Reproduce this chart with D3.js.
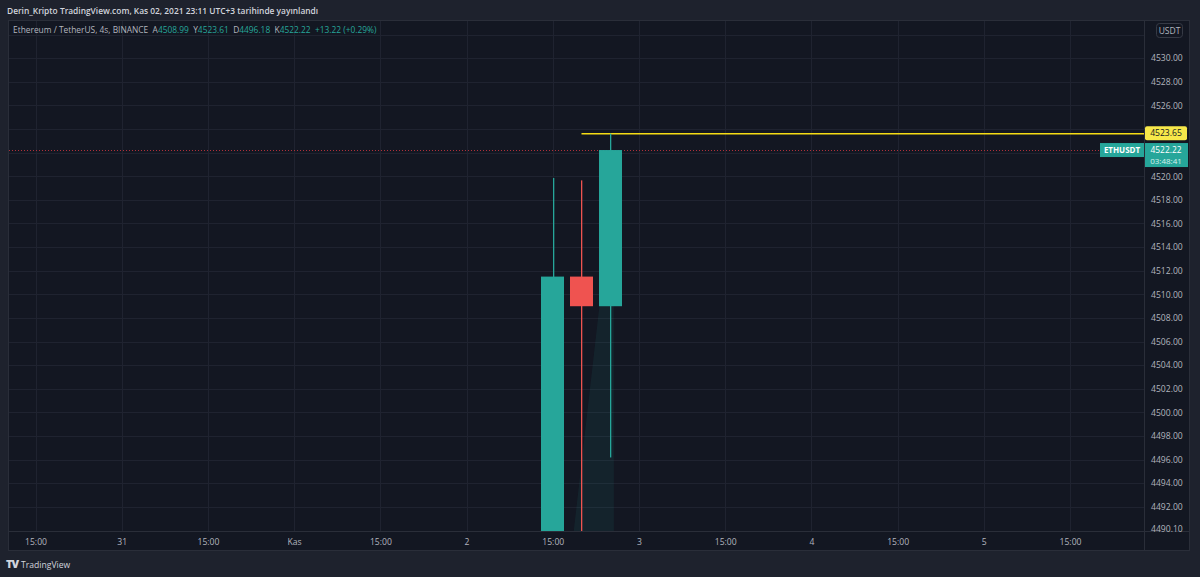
<!DOCTYPE html>
<html>
<head>
<meta charset="utf-8">
<script src="https://cdn.jsdelivr.net/npm/d3@7"></script>
<style>
  html, body { margin: 0; padding: 0; background: #1e222d; }
  svg { display: block; font-family: "Open Sans", "Noto Sans", sans-serif; }
</style>
</head>
<body>
<svg id="chart" width="1200" height="577"></svg>
<script>
// candles (4s bars, UTC+3 times)
var barTimes = ["2021-11-02T15:00", "2021-11-02T19:00", "2021-11-02T23:00"];
var opens  = [4486.0, 4511.5, 4508.99];
var highs  = [4519.85, 4519.65, 4523.61];
var lows   = [4484.0, 4485.0, 4496.18];
var closes = [4511.5, 4508.99, 4522.22];

// axis ticks (4522 / 4524 / 4532 sit under the price badges, so only their grid lines show)
var gridPrices = [4492, 4494, 4496, 4498, 4500, 4502, 4504, 4506, 4508, 4510, 4512, 4514,
  4516, 4518, 4520, 4522, 4524, 4526, 4528, 4530, 4532];
var priceLabels = [4490.10, 4492, 4494, 4496, 4498, 4500, 4502, 4504, 4506, 4508, 4510, 4512,
  4514, 4516, 4518, 4520, 4526, 4528, 4530];
var timeTicks = ["2021-10-30T15:00", "2021-10-31T03:00", "2021-10-31T15:00", "2021-11-01T03:00",
  "2021-11-01T15:00", "2021-11-02T03:00", "2021-11-02T15:00", "2021-11-03T03:00",
  "2021-11-03T15:00", "2021-11-04T03:00", "2021-11-04T15:00", "2021-11-05T03:00", "2021-11-05T15:00"];
var timeLabels = ["15:00", "31", "15:00", "Kas", "15:00", "2", "15:00", "3", "15:00", "4", "15:00", "5", "15:00"];

// drawings
var alertPrice = 4523.65;
var alertStart = "2021-11-02T19:00";
var lastPrice = 4522.22;
var shadePoints = [["2021-11-02T21:30", 4509.0], ["2021-11-02T23:30", 4509.0],
  ["2021-11-02T23:30", 4489.0], ["2021-11-02T17:45", 4489.0]];

var parse = d3.utcParse("%Y-%m-%dT%H:%M");

var svg = d3.select("#chart");

var pane = { left: 9, top: 21, right: 1144, bottom: 531 };

var x = d3.scaleUtc()
  .domain([parse("2021-10-30T15:00"), parse("2021-11-05T15:00")])
  .range([35.5, 1070]);

var y = d3.scaleLinear()
  .domain([4489.95, 4533.15])
  .range([pane.bottom, pane.top]);

var up = "#26a69a", down = "#ef5350";
var barW = (x(parse("2021-11-02T19:00")) - x(parse("2021-11-02T15:00"))) * 0.8;

// title
svg.append("text")
  .attr("x", 7).attr("y", 14)
  .attr("fill", "#d1d4dc")
  .attr("font-size", 8.4)
  .attr("font-weight", 600)
  .text("Derin_Kripto TradingView.com, Kas 02, 2021 23:11 UTC+3 tarihinde yayınlandı");

// pane frame
svg.append("rect")
  .attr("x", 8.5).attr("y", 20.5)
  .attr("width", 1181).attr("height", 530)
  .attr("fill", "#131722")
  .attr("stroke", "#2a2e39");

svg.append("defs").append("clipPath").attr("id", "plotclip")
  .append("rect")
  .attr("x", pane.left).attr("y", pane.top)
  .attr("width", pane.right - pane.left).attr("height", pane.bottom - pane.top);

// grid
var grid = svg.append("g").attr("clip-path", "url(#plotclip)");
grid.selectAll(".hgrid")
  .data(gridPrices)
  .enter().append("line")
  .attr("x1", pane.left).attr("x2", pane.right)
  .attr("y1", function(d) { return Math.round(y(d)) + 0.5; })
  .attr("y2", function(d) { return Math.round(y(d)) + 0.5; })
  .attr("stroke", "#1f2330");
grid.selectAll(".vgrid")
  .data(timeTicks)
  .enter().append("line")
  .attr("y1", pane.top).attr("y2", pane.bottom)
  .attr("x1", function(d) { return Math.round(x(parse(d))) + 0.5; })
  .attr("x2", function(d) { return Math.round(x(parse(d))) + 0.5; })
  .attr("stroke", "#1f2330");

var plot = svg.append("g").attr("clip-path", "url(#plotclip)");

// shaded area
plot.append("path")
  .attr("d", d3.line()
    .x(function(d) { return x(parse(d[0])); })
    .y(function(d) { return y(d[1]); })(shadePoints) + "Z")
  .attr("fill", "rgba(38,166,154,0.09)");

// last price dotted line
plot.append("line")
  .attr("x1", pane.left).attr("x2", pane.right)
  .attr("y1", Math.round(y(lastPrice)) + 0.5).attr("y2", Math.round(y(lastPrice)) + 0.5)
  .attr("stroke", "#b0303a")
  .attr("stroke-dasharray", "1,2");

// alert line
plot.append("rect")
  .attr("x", x(parse(alertStart)))
  .attr("width", pane.right - x(parse(alertStart)))
  .attr("y", Math.round(y(alertPrice)))
  .attr("height", 1.5)
  .attr("fill", "#f5dc14");

// candles
var candles = barTimes.map(function(t, i) {
  return { t: parse(t), o: opens[i], h: highs[i], l: lows[i], c: closes[i] };
});

plot.selectAll(".wick")
  .data(candles)
  .enter().append("rect")
  .attr("class", "wick")
  .attr("x", function(d) { return Math.round(x(d.t)); })
  .attr("width", 1.3)
  .attr("y", function(d) { return y(d.h); })
  .attr("height", function(d) { return y(d.l) - y(d.h); })
  .attr("fill", function(d) { return d.c >= d.o ? up : down; });

plot.selectAll(".body")
  .data(candles)
  .enter().append("rect")
  .attr("class", "body")
  .attr("x", function(d) { return Math.round(x(d.t) - barW / 2); })
  .attr("width", Math.round(barW))
  .attr("y", function(d) { return y(Math.max(d.o, d.c)); })
  .attr("height", function(d) { return Math.abs(y(d.o) - y(d.c)); })
  .attr("fill", function(d) { return d.c >= d.o ? up : down; });

// axis separators
svg.append("line")
  .attr("x1", pane.right + 0.5).attr("x2", pane.right + 0.5)
  .attr("y1", 21).attr("y2", 550)
  .attr("stroke", "#2a2e39");
svg.append("line")
  .attr("x1", 9).attr("x2", 1189)
  .attr("y1", pane.bottom + 0.5).attr("y2", pane.bottom + 0.5)
  .attr("stroke", "#2a2e39");

// price axis
var yAxis = d3.axisRight(y)
  .tickValues(priceLabels)
  .tickSize(0)
  .tickPadding(7)
  .tickFormat(d3.format(".2f"));

var yg = svg.append("g")
  .attr("transform", "translate(" + pane.right + ",0)")
  .call(yAxis);
yg.select(".domain").remove();
yg.selectAll("text")
  .attr("fill", "#b2b5be")
  .attr("font-size", 8.6)
  .attr("font-family", "Open Sans, sans-serif");

// USDT badge
svg.append("rect")
  .attr("x", 1156.5).attr("y", 23.5)
  .attr("width", 26).attr("height", 14).attr("rx", 3)
  .attr("fill", "#131722").attr("stroke", "#363a45");
svg.append("text")
  .attr("x", 1169.5).attr("y", 33.5)
  .attr("text-anchor", "middle")
  .attr("fill", "#b2b5be").attr("font-size", 8.5)
  .text("USDT");

// alert label
svg.append("rect")
  .attr("x", 1145).attr("y", y(alertPrice) - 7)
  .attr("width", 42).attr("height", 14).attr("rx", 2)
  .attr("fill", "#f7e84a");
svg.append("text")
  .attr("x", 1166).attr("y", y(alertPrice) + 3)
  .attr("text-anchor", "middle")
  .attr("fill", "#131722").attr("font-size", 8.6)
  .text(d3.format(".2f")(alertPrice));

// last price labels
svg.append("rect")
  .attr("x", 1100).attr("y", y(lastPrice) - 7)
  .attr("width", 44).attr("height", 14)
  .attr("fill", up);
svg.append("text")
  .attr("x", 1122).attr("y", y(lastPrice) + 3)
  .attr("text-anchor", "middle")
  .attr("fill", "#ffffff").attr("font-size", 8).attr("font-weight", 700)
  .text("ETHUSDT");
svg.append("rect")
  .attr("x", 1145).attr("y", y(lastPrice) - 7)
  .attr("width", 43).attr("height", 24)
  .attr("fill", up);
svg.append("text")
  .attr("x", 1166).attr("y", y(lastPrice) + 2.5)
  .attr("text-anchor", "middle")
  .attr("fill", "#ffffff").attr("font-size", 8.4)
  .text(d3.format(".2f")(lastPrice));
svg.append("text")
  .attr("x", 1166).attr("y", y(lastPrice) + 14)
  .attr("text-anchor", "middle")
  .attr("fill", "#d7f0ed").attr("font-size", 8)
  .text("03:48:41");

// time axis
var xAxis = d3.axisBottom(x)
  .tickValues(timeTicks.map(parse))
  .tickSize(0)
  .tickPadding(7)
  .tickFormat(function(d, i) { return timeLabels[i]; });
var xg = svg.append("g")
  .attr("transform", "translate(0," + (pane.bottom + 1) + ")")
  .call(xAxis);
xg.select(".domain").remove();
xg.selectAll("text")
  .attr("fill", "#b2b5be")
  .attr("font-size", 8.6)
  .attr("font-family", "Open Sans, sans-serif");

// legend
var legend = svg.append("text")
  .attr("x", 13).attr("y", 33)
  .attr("font-size", 8.4)
  .attr("xml:space", "preserve");
var legendParts = [
  ["Ethereum / TetherUS, 4s, BINANCE  ", "#b2b5be"],
  ["A", "#b2b5be"], ["4508.99  ", up],
  ["Y", "#b2b5be"], ["4523.61  ", up],
  ["D", "#b2b5be"], ["4496.18  ", up],
  ["K", "#b2b5be"], ["4522.22  ", up],
  ["+13.22 (+0.29%)", up]
];
legendParts.forEach(function(p) {
  legend.append("tspan").attr("fill", p[1]).text(p[0]);
});

// footer logo
svg.append("text")
  .attr("x", 6).attr("y", 568)
  .attr("fill", "#d1d4dc").attr("font-size", 11).attr("font-weight", 900)
  .attr("letter-spacing", -1)
  .text("TV");
svg.append("text")
  .attr("x", 21).attr("y", 568)
  .attr("fill", "#d1d4dc").attr("font-size", 8.6)
  .text("TradingView");
</script>
</body>
</html>
